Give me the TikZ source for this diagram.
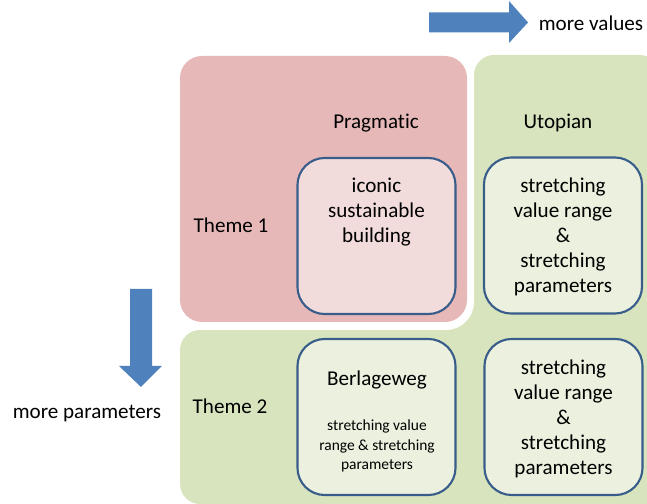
\documentclass[tikz,border=0pt]{standalone}
\usepackage{fontspec}
\setmainfont{Carlito}[Ligatures=NoCommon]
\usetikzlibrary{positioning}

\definecolor{pinkfill}{HTML}{E6B9B8}
\definecolor{pinklight}{HTML}{F2DCDB}
\definecolor{greenfill}{HTML}{D7E4BD}
\definecolor{greenlight}{HTML}{EBF1DE}
\definecolor{boxline}{HTML}{385D8A}
\definecolor{arrowblue}{HTML}{4F81BD}

\tikzset{
  case/.style={draw=boxline, line width=1.5pt, rounded corners=0.68cm,
    minimum width=3.95cm, minimum height=3.9cm, align=center},
  small/.style={font=\fontsize{11}{13.6}\selectfont, align=center},
}

\begin{document}
\begin{tikzpicture}[x=0.025cm,y=-0.025cm]
\tikzstyle{every node}=[font=\fontsize{15}{17.8}\selectfont]
\useasboundingbox (0,0) rectangle (647,504);
\clip (0,0) rectangle (647,504);

% backgrounds
\fill[greenfill, rounded corners=0.5cm] (474,55) rectangle (660,520);
\fill[greenfill, rounded corners=0.5cm] (180,330) rectangle (660,504);
\fill[greenfill] (440,300) rectangle (480,335);
\fill[white, rounded corners=0.7cm] (172,48) rectangle (474,330);
\fill[pinkfill, rounded corners=0.55cm] (180,56) rectangle (467,322);

% arrows
\fill[arrowblue] (429,12.5) -- (509,12.5) -- (509,1) -- (528,22.5)
  -- (509,43) -- (509,32.5) -- (429,32.5) -- cycle;
\fill[arrowblue] (130,289) -- (152,289) -- (152,366) -- (162,366)
  -- (141,387) -- (119,366) -- (130,366) -- cycle;

\node (values) at (591,23) {more values};
\node (params) at (87,414) {more parameters};

% headings
\node (pragmatic) at (376,123) {Pragmatic};
\node (utopian) at (558,123) {Utopian};
\node (theme1) at (231,225) {Theme 1};
\node (theme2) at (230,406) {Theme 2};

% cases
\node[case, fill=pinklight] (iconic) at (376.5,236) {};
\node[align=center] (iconictext) at (376.5,212) {iconic\\sustainable\\building};

\node[case, fill=greenlight, text depth=-2pt] (stretch1) at (563,235.5)
  {stretching\\value range\\\&\\stretching\\parameters};

\node[case, fill=greenlight] (berlage) at (376.5,417) {};
\node (berlagetitle) at (377,380) {Berlageweg};
\node[small] (berlagetext) at (377,446) {stretching value\\range \& stretching\\parameters};

\node[case, fill=greenlight, text depth=-2pt] (stretch2) at (563.5,417)
  {stretching\\value range\\\&\\stretching\\parameters};
\end{tikzpicture}
\end{document}
